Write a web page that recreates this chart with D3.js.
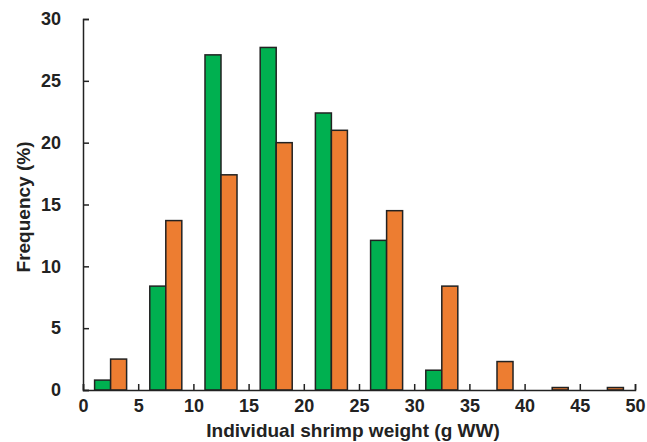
<!DOCTYPE html>
<html>
<head>
<meta charset="utf-8">
<script src="https://cdn.jsdelivr.net/npm/d3@7"></script>
<style>
  body { margin: 0; background: #fff; }
  text { font-family: "Liberation Sans", Arial, sans-serif; font-weight: bold; fill: #222; }
</style>
</head>
<body>
<div id="chart"></div>
<script>
(function(){
  // bin centres (g WW) and frequencies (%)
  const binCenters = [2.5, 7.5, 12.5, 17.5, 22.5, 27.5, 32.5, 37.5, 42.5, 47.5];
  const greenValues = [0.8, 8.4, 27.1, 27.7, 22.4, 12.1, 1.6, 0, 0, 0];
  const orangeValues = [2.5, 13.7, 17.4, 20.0, 21.0, 14.5, 8.4, 2.3, 0.2, 0.2];
  const xTicks = [0, 5, 10, 15, 20, 25, 30, 35, 40, 45, 50];
  const yTicks = [0, 5, 10, 15, 20, 25, 30];

  const width = 647, height = 442;
  const margin = { left: 83, right: 12, top: 19, bottom: 52 };

  const svg = d3.select("#chart").append("svg")
    .attr("width", width).attr("height", height);

  const x = d3.scaleLinear().domain([0, 50]).range([margin.left, width - margin.right]);
  const y = d3.scaleLinear().domain([0, 30]).range([height - margin.bottom, margin.top]);

  const barW = 1.45; // in data units

  const series = [
    { values: greenValues, color: "#00b050", offset: -barW },
    { values: orangeValues, color: "#ed7d31", offset: 0 }
  ];

  series.forEach(s => {
    svg.append("g").selectAll("rect")
      .data(binCenters.map((c, i) => ({ c, v: s.values[i] })).filter(d => d.v > 0))
      .join("rect")
      .attr("x", d => x(d.c + s.offset))
      .attr("width", d => x(d.c + s.offset + barW) - x(d.c + s.offset))
      .attr("y", d => y(d.v))
      .attr("height", d => y(0) - y(d.v))
      .attr("fill", s.color)
      .attr("stroke", "#222")
      .attr("stroke-width", 1.5);
  });

  // x axis (ticks pointing up)
  const xAxis = svg.append("g")
    .attr("transform", `translate(0,${y(0)})`)
    .call(d3.axisBottom(x).tickValues(xTicks).tickSizeInner(-6).tickSizeOuter(-6).tickPadding(9));
  // y axis (ticks pointing right)
  const yAxis = svg.append("g")
    .attr("transform", `translate(${x(0)},0)`)
    .call(d3.axisLeft(y).tickValues(yTicks).tickSizeInner(-6).tickSizeOuter(-6).tickPadding(22));

  [xAxis, yAxis].forEach(a => {
    a.selectAll("path, line").attr("stroke", "#222").attr("stroke-width", 1.5);
    a.selectAll("text").style("font-size", "18px").attr("fill", "#222");
  });

  svg.append("text")
    .attr("x", 353)
    .attr("y", 437)
    .attr("text-anchor", "middle")
    .style("font-size", "19px")
    .text("Individual shrimp weight (g WW)");

  svg.append("text")
    .attr("transform", `translate(30,207) rotate(-90)`)
    .attr("text-anchor", "middle")
    .style("font-size", "19px")
    .text("Frequency (%)");
})();
</script>
</body>
</html>
